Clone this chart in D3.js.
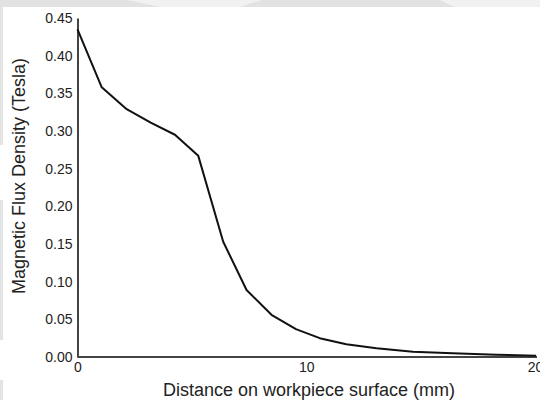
<!DOCTYPE html>
<html>
<head>
<meta charset="utf-8">
<script src="https://cdn.jsdelivr.net/npm/d3@7/dist/d3.min.js"></script>
<style>
  body { margin: 0; background: #fff; }
  svg { display: block; }
  text { font-family: "Liberation Sans", Arial, sans-serif; fill: #222; }
</style>
</head>
<body>
<svg id="chart"></svg>
<script>
var width = 540
var height = 400

// distance along surface (mm) and flux density (T)
var distance = [0, 1.06, 2.15, 3.2, 4.26, 5.28, 6.37, 7.39, 8.48, 9.55, 10.59, 11.75, 13.07, 14.66, 16.4, 18.3, 20.05]
var flux = [0.435, 0.358, 0.329, 0.311, 0.295, 0.267, 0.153, 0.089, 0.056, 0.037, 0.025, 0.017, 0.0115, 0.007, 0.005, 0.003, 0.0017]
var yTicks = [0, 0.05, 0.1, 0.15, 0.2, 0.25, 0.3, 0.35, 0.4, 0.45]
var xTicks = [0, 10, 20]

var svg = d3.select('#chart')
    .attr('width', width)
    .attr('height', height)

// faint page background pieces (top band, left strip)
svg.append('rect').attr('x', 0).attr('y', 0).attr('width', width).attr('height', 7).attr('fill', '#e2e2e2')
svg.append('path')
    .attr('d', 'M128,0 Q145,4 160,7 L240,7 Q252,3 262,0 Z M440,0 Q448,4 455,7 L540,7 L540,0 Z')
    .attr('fill', '#f1f1f1')
svg.append('rect').attr('x', 0).attr('y', 7).attr('width', 3).attr('height', 138).attr('fill', '#e4e4e4')
svg.append('rect').attr('x', 0).attr('y', 200).attr('width', 3).attr('height', 140).attr('fill', '#e4e4e4')
svg.append('rect').attr('x', 0).attr('y', 380).attr('width', 3).attr('height', 20).attr('fill', '#e4e4e4')

var x = d3.scaleLinear().domain([0, 20]).range([77.5, 535])
var y = d3.scaleLinear().domain([0, 0.45]).range([357, 18])

// y axis
var yAxis = svg.append('g')
    .attr('transform', 'translate(' + x(0) + ',0)')
    .call(d3.axisLeft(y).tickValues(yTicks).tickSize(0).tickPadding(5).tickFormat(d3.format('.2f')))
yAxis.select('.domain').attr('stroke', '#444').attr('stroke-width', 2)
yAxis.selectAll('text').style('font-size', '14px').attr('fill', '#222')

// x axis
var xAxis = svg.append('g')
    .attr('transform', 'translate(0,' + y(0) + ')')
    .call(d3.axisBottom(x).tickValues(xTicks).tickSize(0).tickPadding(5).tickFormat(d3.format('d')))
xAxis.select('.domain').attr('stroke', '#444').attr('stroke-width', 2).attr('d', 'M' + x(0) + ',0H' + (x(20) + 2))
xAxis.selectAll('text').style('font-size', '14px').attr('fill', '#222')

// curve
var line = d3.line()
    .x(function(d, i) { return x(distance[i]) })
    .y(function(d) { return y(d) })

svg.append('path')
    .datum(flux)
    .attr('d', line)
    .attr('fill', 'none')
    .attr('stroke', '#111')
    .attr('stroke-width', 2)
    .attr('stroke-linejoin', 'round')

// axis titles
svg.append('text')
    .attr('x', 309)
    .attr('y', 396)
    .attr('text-anchor', 'middle')
    .style('font-size', '18px')
    .text('Distance on workpiece surface (mm)')

svg.append('text')
    .attr('transform', 'translate(25,176) rotate(-90)')
    .attr('text-anchor', 'middle')
    .style('font-size', '18px')
    .text('Magnetic Flux Density (Tesla)')
</script>
</body>
</html>
